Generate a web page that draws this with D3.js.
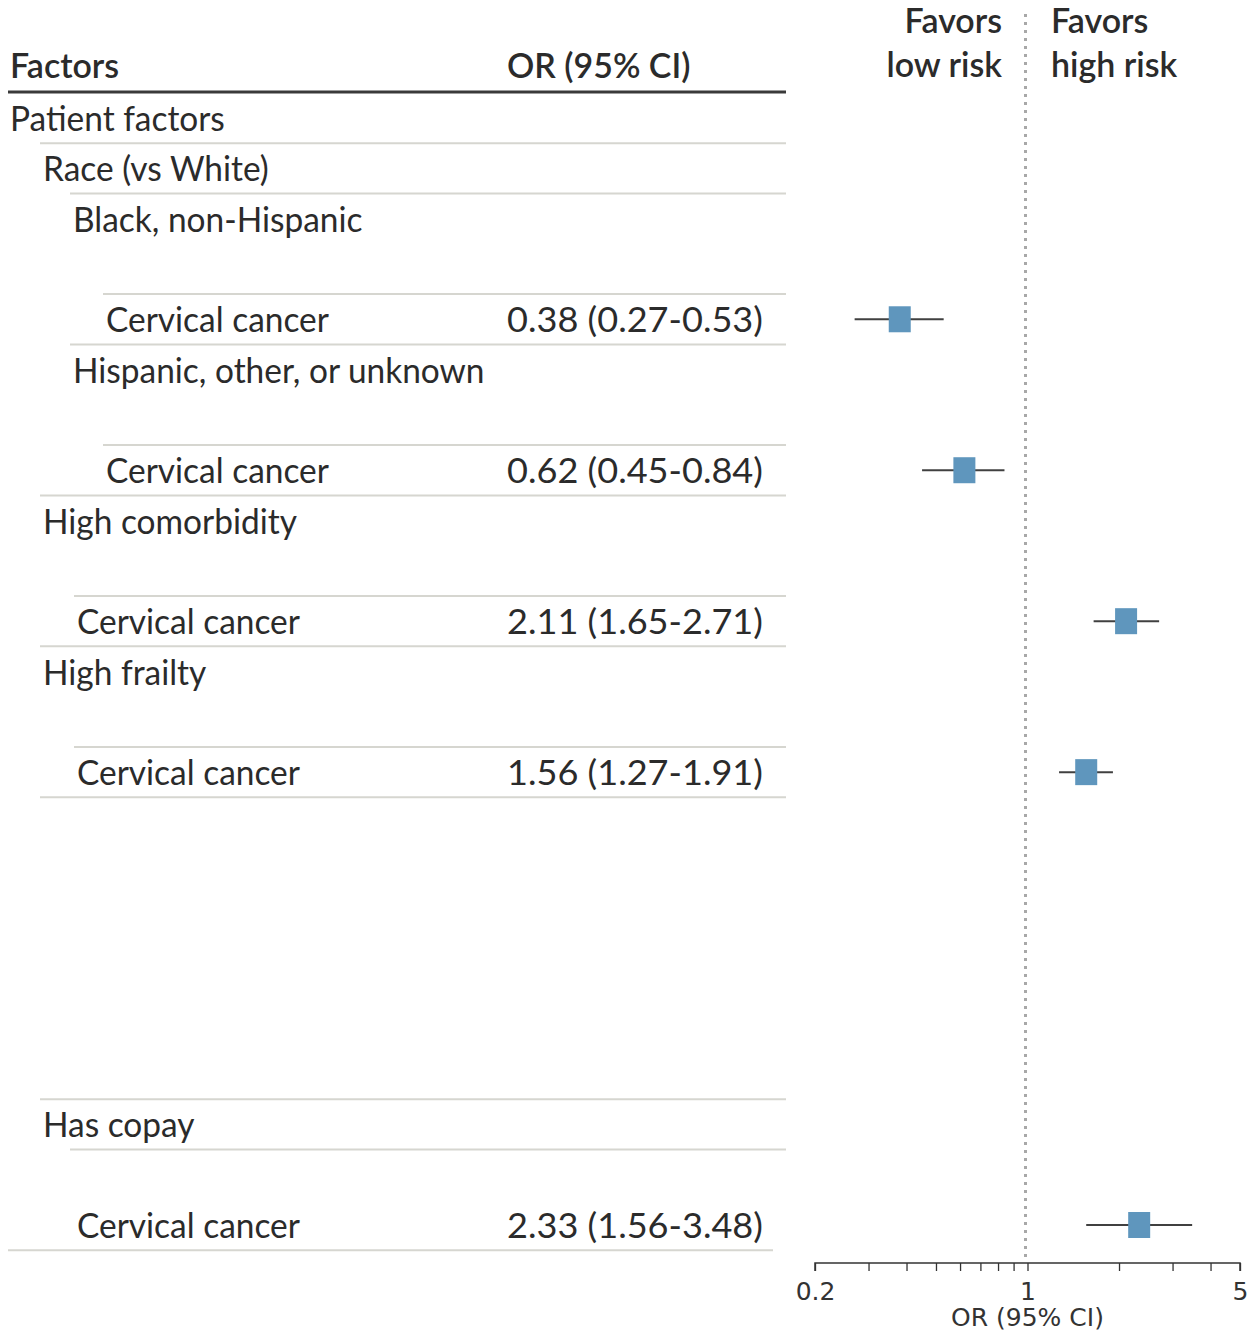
<!DOCTYPE html>
<html>
<head>
<meta charset="utf-8">
<script src="https://cdn.jsdelivr.net/npm/d3@7"></script>
<style>
  html, body { margin: 0; padding: 0; background: #fff; }
  svg { display: block; }
</style>
</head>
<body>
<svg id="chart" width="1248" height="1333"></svg>
<script>
// Table rows, top to bottom
const rowLabels = [
  "Patient factors", "Race (vs White)", "Black, non-Hispanic", "", "Cervical cancer",
  "Hispanic, other, or unknown", "", "Cervical cancer", "High comorbidity", "",
  "Cervical cancer", "High frailty", "", "Cervical cancer", "",
  "", "", "", "", "",
  "Has copay", "", "Cervical cancer"
];
// Indent level of each row label
const rowLevels = [0, 1, 2, 0, 4, 2, 0, 4, 1, 0, 3, 1, 0, 3, 1, 0, 0, 0, 0, 0, 1, 2, 3];
// Indent level of the rule drawn above each row (null = no rule)
const ruleLevels = [null, 1, 2, null, 4, 2, null, 4, 1, null, 3, 1, null, 3, 1,
  null, null, null, null, null, 1, 2, null];

// Odds ratios with 95% CIs
const orRows = [4, 7, 10, 13, 22];
const orEst  = [0.38, 0.62, 2.11, 1.56, 2.33];
const orLow  = [0.27, 0.45, 1.65, 1.27, 1.56];
const orHigh = [0.53, 0.84, 2.71, 1.91, 3.48];

const axisTicks = [0.2, 0.3, 0.4, 0.5, 0.6, 0.7, 0.8, 0.9, 1, 2, 3, 4, 5];
const axisTickLabels = [0.2, 1, 5];

const svg = d3.select("#chart");
const textFont = "Lato, 'Noto Sans', sans-serif";
const textColor = "#2b2b2b";
const fmt = d3.format(".2f");

const levelX = [10, 43, 73, 77, 106];
const y = d3.scalePoint().domain(d3.range(rowLabels.length)).range([118, 1225]);
const x = d3.scaleLog().domain([0.2, 5]).range([815, 1240]);

// Narrow the text face to the table's condensed look
function measure(str, size, weight) {
  const p = svg.append("text").attr("font-family", textFont)
    .attr("font-size", size).attr("font-weight", weight).text(str);
  const w = p.node().getComputedTextLength();
  p.remove();
  return w;
}
const condense = 223 / measure("Cervical cancer", 34, 400);
const condenseNum = 256 / measure("0.38 (0.27-0.53)", 34, 400);

function label(g, tx, ty, str, opts = {}) {
  return g.append("text")
    .attr("transform", `translate(${tx},${ty}) scale(${opts.sx || condense},1)`)
    .attr("font-family", textFont)
    .attr("font-size", opts.size || 34)
    .attr("font-weight", opts.weight || 400)
    .attr("fill", textColor)
    .attr("text-anchor", opts.anchor || "start")
    .text(str);
}

const table = svg.append("g");
const head = { weight: 600, size: 34.5 };

// Header
label(table, 10, 78, "Factors", head);
label(table, 507, 78, "OR (95% CI)", head);
table.append("line").attr("x1", 8).attr("x2", 786).attr("y1", 92).attr("y2", 92)
  .attr("stroke", "#3a3a3a").attr("stroke-width", 3);

// Row rules
rowLabels.forEach((_, i) => {
  if (ruleLevels[i] === null) return;
  const yy = y(i) - y.step() / 2;
  table.append("line")
    .attr("x1", levelX[ruleLevels[i]] - 3).attr("x2", 786)
    .attr("y1", yy).attr("y2", yy)
    .attr("stroke", "#d6d6d0").attr("stroke-width", 2);
});
// Closing rule
const lastY = y(rowLabels.length - 1) + y.step() / 2;
table.append("line").attr("x1", 8).attr("x2", 773).attr("y1", lastY).attr("y2", lastY)
  .attr("stroke", "#d6d6d0").attr("stroke-width", 2);

// Row labels
rowLabels.forEach((s, i) => {
  if (!s) return;
  label(table, levelX[rowLevels[i]], y(i) + 13, s);
});

// OR text
orRows.forEach((r, k) => {
  label(table, 507, y(r) + 13, `${fmt(orEst[k])} (${fmt(orLow[k])}-${fmt(orHigh[k])})`,
    { sx: condenseNum });
});

// Forest plot
const plot = svg.append("g");

// Null line
plot.append("line")
  .attr("x1", x(1) - 2).attr("x2", x(1) - 2)
  .attr("y1", 14).attr("y2", 1262)
  .attr("stroke", "#a8a8a8").attr("stroke-width", 3)
  .attr("stroke-dasharray", "3,5");

// Direction labels
label(plot, 1002, 33, "Favors", { ...head, anchor: "end" });
label(plot, 1002, 77, "low risk", { ...head, anchor: "end" });
label(plot, 1051, 33, "Favors", head);
label(plot, 1051, 77, "high risk", head);

// CI whiskers and point estimates
const marks = plot.selectAll("g.or").data(orRows.map((r, k) => ({ r, k }))).join("g").attr("class", "or");
marks.append("line")
  .attr("x1", d => x(orLow[d.k])).attr("x2", d => x(orHigh[d.k]))
  .attr("y1", d => y(d.r)).attr("y2", d => y(d.r))
  .attr("stroke", "#404040").attr("stroke-width", 2);
marks.append("rect")
  .attr("x", d => x(orEst[d.k]) - 11).attr("y", d => y(d.r) - 13)
  .attr("width", 22).attr("height", 26)
  .attr("fill", "#5f96bd");

// Axis
const axis = d3.axisBottom(x)
  .tickValues(axisTicks)
  .tickSize(8)
  .tickFormat(v => axisTickLabels.includes(v) ? String(v) : "");
const ax = plot.append("g").attr("transform", "translate(0,1263)").call(axis);
ax.attr("font-size", null).attr("font-family", null);
ax.select(".domain").attr("stroke", "#333").attr("stroke-width", 1.5)
  .attr("d", `M${x(0.2)},8V0H${x(5)}V8`);
ax.selectAll(".tick line").attr("stroke", "#333").attr("stroke-width", 1.3);
ax.selectAll(".tick text")
  .attr("font-family", "'DejaVu Sans', sans-serif")
  .attr("font-size", 25).attr("fill", "#333").attr("y", 19).attr("dy", "0.71em");

plot.append("text")
  .attr("x", x(1)).attr("y", 1326)
  .attr("text-anchor", "middle")
  .attr("font-family", "'DejaVu Sans', sans-serif")
  .attr("font-size", 25).attr("fill", "#333")
  .text("OR (95% CI)");
</script>
</body>
</html>
